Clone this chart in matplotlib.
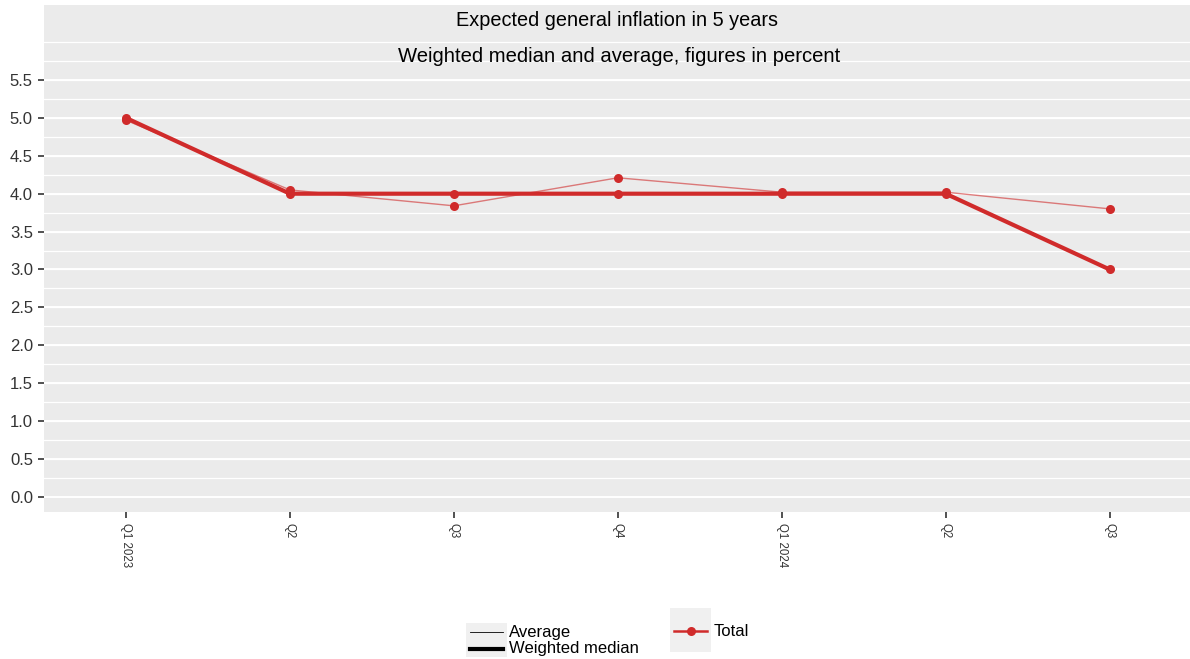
import matplotlib
matplotlib.use("Agg")
from matplotlib import pyplot as plt
from matplotlib.lines import Line2D
from matplotlib.patches import Rectangle
import numpy as np

quarters = ["Q1 2023", "Q2", "Q3", "Q4", "Q1 2024", "Q2", "Q3"]
weighted_median = [5.0, 4.0, 4.0, 4.0, 4.0, 4.0, 3.0]
average = [4.97, 4.05, 3.84, 4.21, 4.02, 4.02, 3.80]

RED = "#d02b2b"
W, H = 1190, 659


def fx(px):
    return px / W


def fy(py):
    return 1 - py / H


plt.rcParams["font.family"] = ["Liberation Sans", "DejaVu Sans"]

fig = plt.figure(figsize=(W / 100, H / 100), dpi=100)
ax = fig.add_axes([fx(44), fy(512), 1 - fx(44), fy(5) - fy(512)])
ax.set_facecolor("#ebebeb")
for s in ax.spines.values():
    s.set_visible(False)

x = np.arange(len(quarters))
ax.plot(x, average, color=RED, lw=1.0, alpha=0.6, zorder=3)
ax.plot(x, average, color=RED, lw=0, marker="o", ms=6.5,
        markeredgewidth=0, zorder=3)
ax.plot(x, weighted_median, color=RED, lw=3.0, marker="o", ms=6.5,
        markeredgewidth=0, zorder=4)

ax.set_xlim(-0.5, 6.49)
ax.set_ylim(-0.2, 6.49)

yt = np.arange(0, 5.51, 0.5)
ax.set_yticks(yt)
ax.set_yticklabels([f"{v:.1f}" for v in yt])
for v in np.arange(0.25, 6.01, 0.25):
    ax.axhline(v, color="white", lw=0.9, zorder=1)
for v in yt:
    ax.axhline(v, color="white", lw=1.4, zorder=1)
ax.tick_params(axis="y", length=4, width=1.2, color="#333333",
               labelsize=12, labelcolor="#333333", pad=4)

ax.set_xticks(x)
ax.set_xticklabels(quarters, rotation=-90, fontsize=8.3, color="#333333")
ax.tick_params(axis="x", length=4, width=1.2, color="#333333", pad=4)

fig.text(fx(617), fy(20), "Expected general inflation in 5 years",
         ha="center", va="center", fontsize=14.3)
fig.text(fx(619), fy(56), "Weighted median and average, figures in percent",
         ha="center", va="center", fontsize=14.6)

# legend 1: line widths
fig.add_artist(Rectangle((fx(466), fy(657)), fx(41), fy(623) - fy(657),
                         transform=fig.transFigure, color="#f0f0f0", lw=0))
fig.add_artist(Line2D([fx(470), fx(503)], [fy(632), fy(632)],
                      transform=fig.transFigure, color="black", lw=0.6))
fig.add_artist(Line2D([fx(470), fx(503)], [fy(649), fy(649)],
                      transform=fig.transFigure, color="black", lw=3.0))
fig.text(fx(509), fy(632), "Average", va="center", fontsize=12)
fig.text(fx(509), fy(649), "Weighted median", va="center", fontsize=12)

# legend 2: colour
fig.add_artist(Rectangle((fx(670), fy(652)), fx(41), fy(608) - fy(652),
                         transform=fig.transFigure, color="#f0f0f0", lw=0))
fig.add_artist(Line2D([fx(674), fx(707)], [fy(631), fy(631)],
                      transform=fig.transFigure, color=RED, lw=1.8))
fig.add_artist(Line2D([fx(690.5)], [fy(631)], transform=fig.transFigure,
                      color=RED, lw=0, marker="o", ms=6.5, markeredgewidth=0))
fig.text(fx(714), fy(631), "Total", va="center", fontsize=12)

fig.savefig("out.png", dpi=100)
